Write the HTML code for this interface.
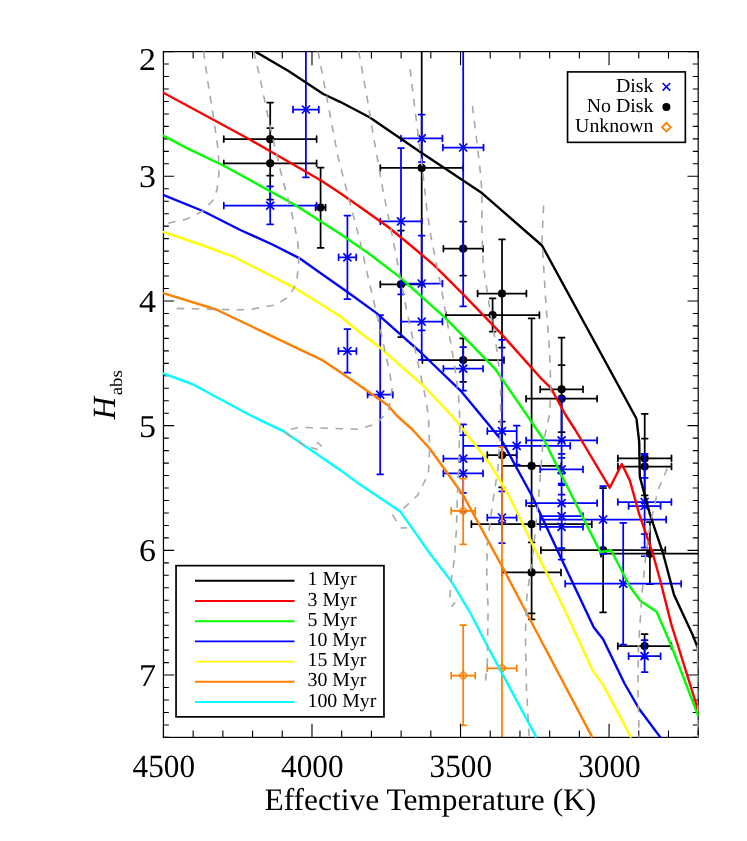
<!DOCTYPE html>
<html><head><meta charset="utf-8"><title>H_abs vs Effective Temperature</title>
<style>html,body{margin:0;padding:0;background:#fff}body{width:747px;height:841px;overflow:hidden}svg{display:block;will-change:transform}text{font-family:"Liberation Serif",serif;fill:#000;text-rendering:geometricPrecision}</style></head><body>
<svg width="747" height="841" viewBox="0 0 747 841">
<rect x="0" y="0" width="747" height="841" fill="#fff"/>
<defs><clipPath id="pc"><rect x="163.4" y="51.6" width="534.8" height="685.8"/></clipPath><clipPath id="pc2"><rect x="162.8" y="51.0" width="536.0" height="687.0"/></clipPath></defs>
<g clip-path="url(#pc)">
<path d="M223.8 139.2H316.6M223.8 136.2V142.1M316.6 136.2V142.1M270.2 102.6V175.7M267.2 102.6H273.1M267.2 175.7H273.1M223.8 163.3H316.6M223.8 160.4V166.2M316.6 160.4V166.2M270.2 128.0V199.5M267.2 128.0H273.1M267.2 199.5H273.1M315.6 207.5H325.6M315.6 204.6V210.4M325.6 204.6V210.4M320.6 167.6V247.9M317.7 167.6H323.6M317.7 247.9H323.6M380.3 167.9H463.1M380.3 165.0V170.8M463.1 165.0V170.8M421.7 30.0V284.0M418.8 30.0H424.6M418.8 284.0H424.6M443.4 248.7H483.0M443.4 245.8V251.6M483.0 245.8V251.6M463.2 221.7V275.5M460.2 221.7H466.1M460.2 275.5H466.1M477.6 293.5H526.4M477.6 290.6V296.4M526.4 290.6V296.4M502.0 239.4V347.6M499.1 239.4H504.9M499.1 347.6H504.9M445.8 315.1H539.4M445.8 312.2V318.1M539.4 312.2V318.1M492.6 298.3V331.7M489.7 298.3H495.6M489.7 331.7H495.6M380.3 284.4H421.7M380.3 281.4V287.3M421.7 281.4V287.3M401.0 230.5V337.1M398.1 230.5H403.9M398.1 337.1H403.9M422.4 360.1H504.0M422.4 357.2V363.1M504.0 357.2V363.1M463.2 338.4V381.8M460.2 338.4H466.1M460.2 381.8H466.1M540.2 389.3H583.0M540.2 386.4V392.2M583.0 386.4V392.2M561.6 337.6V441.0M558.6 337.6H564.6M558.6 441.0H564.6M526.1 398.7H597.1M526.1 395.8V401.6M597.1 395.8V401.6M561.6 365.2V432.2M558.6 365.2H564.6M558.6 432.2H564.6M487.3 455.2H516.7M487.3 452.2V458.1M516.7 452.2V458.1M502.0 421.7V487.3M499.1 421.7H504.9M499.1 487.3H504.9M501.9 465.9H561.3M501.9 462.9V468.8M561.3 462.9V468.8M531.6 318.4V613.4M528.6 318.4H534.6M528.6 613.4H534.6M471.4 524.2H591.8M471.4 521.2V527.2M591.8 521.2V527.2M531.6 506.0V542.4M528.6 506.0H534.6M528.6 542.4H534.6M502.2 572.4H561.0M502.2 569.4V575.4M561.0 569.4V575.4M531.6 525.5V619.3M528.6 525.5H534.6M528.6 619.3H534.6M540.9 550.2H665.3M540.9 547.2V553.2M665.3 547.2V553.2M603.1 488.0V612.3M600.1 488.0H606.1M600.1 612.3H606.1M601.0 553.7H720.0M601.0 550.8V556.7M720.0 550.8V556.7M649.9 522.1V584.2M646.9 522.1H652.9M646.9 584.2H652.9M617.9 458.4H671.5M617.9 455.4V461.3M671.5 455.4V461.3M644.7 413.8V503.0M641.8 413.8H647.7M641.8 503.0H647.7M617.9 466.5H671.5M617.9 463.6V469.4M671.5 463.6V469.4M644.7 438.6V495.3M641.8 438.6H647.7M641.8 495.3H647.7M617.8 646.0H671.4M617.8 643.0V649.0M671.4 643.0V649.0M644.6 634.0V658.0M641.6 634.0H647.6M641.6 658.0H647.6" stroke="#000" stroke-width="1.75" fill="none" stroke-linecap="round"/>
<g fill="#000"><circle cx="270.2" cy="139.2" r="4.1"/><circle cx="270.2" cy="163.3" r="4.1"/><circle cx="320.6" cy="207.5" r="4.1"/><circle cx="421.7" cy="167.9" r="4.1"/><circle cx="463.2" cy="248.7" r="4.1"/><circle cx="502.0" cy="293.5" r="4.1"/><circle cx="492.6" cy="315.1" r="4.1"/><circle cx="401.0" cy="284.4" r="4.1"/><circle cx="463.2" cy="360.1" r="4.1"/><circle cx="561.6" cy="389.3" r="4.1"/><circle cx="561.6" cy="398.7" r="4.1"/><circle cx="502.0" cy="455.2" r="4.1"/><circle cx="531.6" cy="465.9" r="4.1"/><circle cx="531.6" cy="524.2" r="4.1"/><circle cx="531.6" cy="572.4" r="4.1"/><circle cx="603.1" cy="550.2" r="4.1"/><circle cx="649.9" cy="553.7" r="4.1"/><circle cx="644.7" cy="458.4" r="4.1"/><circle cx="644.7" cy="466.5" r="4.1"/><circle cx="644.6" cy="646.0" r="4.1"/></g>
<path d="M293.0 109.5H318.8M293.0 106.5V112.5M318.8 106.5V112.5M305.9 41.7V177.3M302.9 41.7H308.8M302.9 177.3H308.8M223.8 205.6H316.6M223.8 202.7V208.5M316.6 202.7V208.5M270.2 186.4V224.4M267.2 186.4H273.1M267.2 224.4H273.1M401.0 138.4H442.4M401.0 135.5V141.3M442.4 135.5V141.3M421.7 114.6V162.0M418.8 114.6H424.6M418.8 162.0H424.6M442.9 147.5H483.5M442.9 144.6V150.4M483.5 144.6V150.4M463.2 -11.0V306.3M460.2 -11.0H466.1M460.2 306.3H466.1M380.3 221.4H421.7M380.3 218.5V224.3M421.7 218.5V224.3M401.0 148.1V294.3M398.1 148.1H403.9M398.1 294.3H403.9M338.6 257.3H356.2M338.6 254.4V260.2M356.2 254.4V260.2M347.4 215.5V299.1M344.4 215.5H350.3M344.4 299.1H350.3M338.4 351.0H356.4M338.4 348.1V353.9M356.4 348.1V353.9M347.4 329.1V372.7M344.4 329.1H350.3M344.4 372.7H350.3M401.0 283.5H442.4M401.0 280.6V286.4M442.4 280.6V286.4M421.7 235.6V330.4M418.8 235.6H424.6M418.8 330.4H424.6M401.0 321.6H442.4M401.0 318.7V324.6M442.4 318.7V324.6M421.7 283.3V359.9M418.8 283.3H424.6M418.8 359.9H424.6M443.4 368.7H483.0M443.4 365.8V371.6M483.0 365.8V371.6M463.2 347.0V390.6M460.2 347.0H466.1M460.2 390.6H466.1M367.6 394.7H392.8M367.6 391.8V397.6M392.8 391.8V397.6M380.2 315.1V474.3M377.2 315.1H383.1M377.2 474.3H383.1M443.4 458.6H483.0M443.4 455.7V461.6M483.0 455.7V461.6M463.2 424.4V492.8M460.2 424.4H466.1M460.2 492.8H466.1M443.4 473.4H483.0M443.4 470.4V476.3M483.0 470.4V476.3M463.2 435.1V511.7M460.2 435.1H466.1M460.2 511.7H466.1M487.3 431.1H516.7M487.3 428.2V434.1M516.7 428.2V434.1M502.0 339.8V522.4M499.1 339.8H504.9M499.1 522.4H504.9M487.3 517.5H516.7M487.3 514.5V520.5M516.7 514.5V520.5M502.0 491.3V543.0M499.1 491.3H504.9M499.1 543.0H504.9M463.2 445.8H570.2M463.2 442.9V448.8M570.2 442.9V448.8M516.7 425.7V464.5M513.8 425.7H519.7M513.8 464.5H519.7M526.1 440.4H597.1M526.1 437.4V443.3M597.1 437.4V443.3M561.6 397.3V483.5M558.6 397.3H564.6M558.6 483.5H564.6M540.2 469.4H583.0M540.2 466.4V472.3M583.0 466.4V472.3M561.6 453.8V485.0M558.6 453.8H564.6M558.6 485.0H564.6M526.1 503.1H597.1M526.1 500.2V506.1M597.1 500.2V506.1M561.6 457.8V548.0M558.6 457.8H564.6M558.6 548.0H564.6M540.2 516.2H583.0M540.2 513.2V519.2M583.0 513.2V519.2M561.6 473.7V559.6M558.6 473.7H564.6M558.6 559.6H564.6M540.2 526.8H583.0M540.2 523.8V529.8M583.0 523.8V529.8M561.6 494.7V548.0M558.6 494.7H564.6M558.6 548.0H564.6M540.1 519.5H666.1M540.1 516.5V522.5M666.1 516.5V522.5M603.1 486.0V553.8M600.1 486.0H606.1M600.1 553.8H606.1M565.2 583.7H681.2M565.2 580.8V586.7M681.2 580.8V586.7M623.2 522.9V644.5M620.2 522.9H626.2M620.2 644.5H626.2M617.8 502.0H671.4M617.8 499.1V504.9M671.4 499.1V504.9M644.6 453.8V547.6M641.6 453.8H647.6M641.6 547.6H647.6M628.6 506.0H660.6M628.6 503.1V508.9M660.6 503.1V508.9M644.6 477.9V534.1M641.6 477.9H647.6M641.6 534.1H647.6M628.6 656.2H660.6M628.6 653.2V659.2M660.6 653.2V659.2M644.6 640.1V672.0M641.6 640.1H647.6M641.6 672.0H647.6" stroke="#0000ff" stroke-width="1.75" fill="none" stroke-linecap="round"/>
<path d="M302.4 106.0l7.0 7.0M302.4 113.0l7.0 -7.0M266.7 202.1l7.0 7.0M266.7 209.1l7.0 -7.0M418.2 134.9l7.0 7.0M418.2 141.9l7.0 -7.0M459.7 144.0l7.0 7.0M459.7 151.0l7.0 -7.0M397.5 217.9l7.0 7.0M397.5 224.9l7.0 -7.0M343.9 253.8l7.0 7.0M343.9 260.8l7.0 -7.0M343.9 347.5l7.0 7.0M343.9 354.5l7.0 -7.0M418.2 280.0l7.0 7.0M418.2 287.0l7.0 -7.0M418.2 318.1l7.0 7.0M418.2 325.1l7.0 -7.0M459.7 365.2l7.0 7.0M459.7 372.2l7.0 -7.0M376.7 391.2l7.0 7.0M376.7 398.2l7.0 -7.0M459.7 455.1l7.0 7.0M459.7 462.1l7.0 -7.0M459.7 469.9l7.0 7.0M459.7 476.9l7.0 -7.0M498.5 427.6l7.0 7.0M498.5 434.6l7.0 -7.0M498.5 514.0l7.0 7.0M498.5 521.0l7.0 -7.0M513.2 442.3l7.0 7.0M513.2 449.3l7.0 -7.0M558.1 436.9l7.0 7.0M558.1 443.9l7.0 -7.0M558.1 465.9l7.0 7.0M558.1 472.9l7.0 -7.0M558.1 499.6l7.0 7.0M558.1 506.6l7.0 -7.0M558.1 512.7l7.0 7.0M558.1 519.7l7.0 -7.0M558.1 523.3l7.0 7.0M558.1 530.3l7.0 -7.0M599.6 516.0l7.0 7.0M599.6 523.0l7.0 -7.0M619.7 580.2l7.0 7.0M619.7 587.2l7.0 -7.0M641.1 498.5l7.0 7.0M641.1 505.5l7.0 -7.0M641.1 502.5l7.0 7.0M641.1 509.5l7.0 -7.0M641.1 652.7l7.0 7.0M641.1 659.7l7.0 -7.0" stroke="#0000ff" stroke-width="1.75" fill="none" stroke-linecap="round"/>
<path d="M641 556.2h7.2M641 454.8h7.2" stroke="#0000ff" stroke-width="1.6"/>
<path d="M451.2 510.9H475.2M451.2 507.9V513.9M475.2 507.9V513.9M463.2 478.5V544.3M460.2 478.5H466.1M460.2 544.3H466.1M451.2 675.5H475.2M451.2 672.5V678.5M475.2 672.5V678.5M463.2 625.1V725.3M460.2 625.1H466.1M460.2 725.3H466.1M487.3 668.3H516.7M487.3 665.3V671.2M516.7 665.3V671.2M502.0 447.1V890.0M499.1 447.1H504.9M499.1 890.0H504.9" stroke="#ff7f00" stroke-width="1.75" fill="none" stroke-linecap="round"/>
<path d="M459.0 510.9L463.2 506.7L467.4 510.9L463.2 515.1ZM459.0 675.5L463.2 671.3L467.4 675.5L463.2 679.7ZM497.8 668.3L502.0 664.1L506.2 668.3L502.0 672.5Z" stroke="#ff7f00" stroke-width="1.4" fill="none"/>
</g>
<rect x="163.45" y="51.60" width="534.75" height="685.80" fill="none" stroke="#000" stroke-width="1.2"/>
<path d="M163.45 51.60v13.7M163.45 737.40v-13.7M193.16 51.60v6.9M193.16 737.40v-6.9M222.87 51.60v6.9M222.87 737.40v-6.9M252.57 51.60v6.9M252.57 737.40v-6.9M282.28 51.60v6.9M282.28 737.40v-6.9M311.99 51.60v13.7M311.99 737.40v-13.7M341.70 51.60v6.9M341.70 737.40v-6.9M371.41 51.60v6.9M371.41 737.40v-6.9M401.12 51.60v6.9M401.12 737.40v-6.9M430.82 51.60v6.9M430.82 737.40v-6.9M460.53 51.60v13.7M460.53 737.40v-13.7M490.24 51.60v6.9M490.24 737.40v-6.9M519.95 51.60v6.9M519.95 737.40v-6.9M549.66 51.60v6.9M549.66 737.40v-6.9M579.37 51.60v6.9M579.37 737.40v-6.9M609.07 51.60v13.7M609.07 737.40v-13.7M638.78 51.60v6.9M638.78 737.40v-6.9M668.49 51.60v6.9M668.49 737.40v-6.9M698.20 51.60v6.9M698.20 737.40v-6.9M163.45 51.60h10.7M698.20 51.60h-10.7M163.45 64.07h5.4M698.20 64.07h-5.4M163.45 76.54h5.4M698.20 76.54h-5.4M163.45 89.01h5.4M698.20 89.01h-5.4M163.45 101.48h5.4M698.20 101.48h-5.4M163.45 113.95h5.4M698.20 113.95h-5.4M163.45 126.41h5.4M698.20 126.41h-5.4M163.45 138.88h5.4M698.20 138.88h-5.4M163.45 151.35h5.4M698.20 151.35h-5.4M163.45 163.82h5.4M698.20 163.82h-5.4M163.45 176.29h10.7M698.20 176.29h-10.7M163.45 188.76h5.4M698.20 188.76h-5.4M163.45 201.23h5.4M698.20 201.23h-5.4M163.45 213.70h5.4M698.20 213.70h-5.4M163.45 226.17h5.4M698.20 226.17h-5.4M163.45 238.64h5.4M698.20 238.64h-5.4M163.45 251.11h5.4M698.20 251.11h-5.4M163.45 263.57h5.4M698.20 263.57h-5.4M163.45 276.04h5.4M698.20 276.04h-5.4M163.45 288.51h5.4M698.20 288.51h-5.4M163.45 300.98h10.7M698.20 300.98h-10.7M163.45 313.45h5.4M698.20 313.45h-5.4M163.45 325.92h5.4M698.20 325.92h-5.4M163.45 338.39h5.4M698.20 338.39h-5.4M163.45 350.86h5.4M698.20 350.86h-5.4M163.45 363.33h5.4M698.20 363.33h-5.4M163.45 375.80h5.4M698.20 375.80h-5.4M163.45 388.27h5.4M698.20 388.27h-5.4M163.45 400.73h5.4M698.20 400.73h-5.4M163.45 413.20h5.4M698.20 413.20h-5.4M163.45 425.67h10.7M698.20 425.67h-10.7M163.45 438.14h5.4M698.20 438.14h-5.4M163.45 450.61h5.4M698.20 450.61h-5.4M163.45 463.08h5.4M698.20 463.08h-5.4M163.45 475.55h5.4M698.20 475.55h-5.4M163.45 488.02h5.4M698.20 488.02h-5.4M163.45 500.49h5.4M698.20 500.49h-5.4M163.45 512.96h5.4M698.20 512.96h-5.4M163.45 525.43h5.4M698.20 525.43h-5.4M163.45 537.89h5.4M698.20 537.89h-5.4M163.45 550.36h10.7M698.20 550.36h-10.7M163.45 562.83h5.4M698.20 562.83h-5.4M163.45 575.30h5.4M698.20 575.30h-5.4M163.45 587.77h5.4M698.20 587.77h-5.4M163.45 600.24h5.4M698.20 600.24h-5.4M163.45 612.71h5.4M698.20 612.71h-5.4M163.45 625.18h5.4M698.20 625.18h-5.4M163.45 637.65h5.4M698.20 637.65h-5.4M163.45 650.12h5.4M698.20 650.12h-5.4M163.45 662.59h5.4M698.20 662.59h-5.4M163.45 675.05h10.7M698.20 675.05h-10.7M163.45 687.52h5.4M698.20 687.52h-5.4M163.45 699.99h5.4M698.20 699.99h-5.4M163.45 712.46h5.4M698.20 712.46h-5.4M163.45 724.93h5.4M698.20 724.93h-5.4M163.45 737.40h5.4M698.20 737.40h-5.4" stroke="#000" stroke-width="1.1" fill="none"/>
<g clip-path="url(#pc2)" fill="none" stroke-width="2.4" stroke-linejoin="round">
<polyline points="162.4,373.1 192.1,384.0 249.7,415.0 283.2,431.1 340.0,469.9 360.0,484.6 400.2,511.4 431.0,555.0 451.1,581.0 471.2,614.5 484.6,640.7 536.5,737.6" stroke="#00ffff"/>
<polyline points="162.4,292.9 216.2,309.5 323.3,360.7 340.0,371.9 360.0,385.8 388.2,405.4 396.2,415.0 412.3,429.5 429.7,448.5 463.2,495.3 500.6,563.6 527.4,614.5 592.4,737.6" stroke="#ff7f00"/>
<polyline points="162.4,231.6 200.2,244.5 233.6,256.8 296.5,288.9 340.0,316.2 360.0,332.5 380.2,347.8 423.0,385.3 451.1,415.0 463.2,429.5 490.0,464.1 507.4,492.9 525.5,529.7 532.1,543.5 540.0,559.6 566.9,614.5 592.4,670.1 603.1,684.9 631.2,737.6" stroke="#ffff00"/>
<polyline points="162.4,194.5 202.8,211.0 240.3,230.0 272.4,244.5 299.2,258.1 320.0,272.7 347.4,292.1 376.2,312.9 400.3,334.3 420.3,352.0 460.5,390.6 501.6,440.2 532.0,496.0 561.6,559.3 593.7,627.3 603.1,639.3 624.5,683.5 639.2,709.0 660.6,737.6" stroke="#0000ff"/>
<polyline points="162.4,135.0 186.8,148.1 224.3,166.0 293.9,204.3 340.0,233.8 369.5,254.0 401.6,278.6 447.1,319.7 495.3,369.2 544.6,441.0 562.0,476.2 600.4,552.1 611.1,550.2 629.9,586.7 640.6,601.0 656.6,611.8 671.4,646.0 698.4,716.3" stroke="#00ff00"/>
<polyline points="162.4,92.2 248.4,138.7 320.6,180.2 340.0,193.0 360.0,207.0 388.2,227.0 409.6,244.5 433.7,264.8 463.2,294.3 500.6,333.1 540.0,377.3 550.9,388.0 565.6,415.0 575.0,429.5 609.8,487.8 621.8,464.0 629.9,480.6 639.2,514.1 652.6,553.0 660.6,581.8 671.4,624.6 698.4,711.0" stroke="#ff0000"/>
<polyline points="255.0,51.4 288.5,71.0 323.3,94.0 340.0,101.8 369.5,117.3 420.3,152.1 481.9,193.1 500.0,208.9 542.0,245.5 636.5,418.8 639.2,441.8 639.8,476.6 649.9,514.1 663.3,554.2 674.0,594.8 692.8,635.3 698.4,649.5" stroke="#000000"/>
</g>
<g clip-path="url(#pc2)" stroke="#a8a8a8" stroke-width="1.6" fill="none" stroke-dasharray="7.5 7.5">
<polyline points="203.6,51.4 208.3,85.0 214.3,122.6 218.4,152.0 219.0,173.5 217.0,189.6 213.5,199.7 202.8,211.0 186.8,219.0 163.4,224.4"/>
<polyline points="253.7,51.4 260.4,79.8 269.8,125.3 280.5,170.8 291.2,211.0 297.5,240.0 299.2,258.1 296.5,283.5 288.5,297.0 275.1,305.0 248.4,309.8 216.2,309.5 170.7,308.2"/>
<polyline points="318.0,51.4 326.0,93.2 338.0,157.0 350.7,205.6 360.0,241.0 369.5,283.5 380.2,329.0 389.5,371.9 392.2,388.0 388.6,411.0 376.0,424.0 358.0,429.3 340.0,428.7 299.2,427.3 283.2,431.1"/>
<polyline points="286.0,433.0 304.6,445.8"/>
<polyline points="310.9,447.5 317.8,449.6"/>
<polyline points="321.8,446.4 316.9,442.2"/>
<polyline points="358.7,51.4 366.8,95.9 374.8,144.0 382.8,189.6 392.5,237.0 405.6,305.0 416.4,355.8 425.2,396.0 428.4,415.0 429.7,448.5 428.4,473.9 417.6,495.3 400.2,511.4"/>
<polyline points="392.5,514.6 396.8,521.8"/>
<polyline points="400.6,527.9 406.8,527.9"/>
<polyline points="410.1,69.1 413.6,98.5 423.0,173.5 427.0,211.0 431.0,237.0 440.4,283.5 447.1,321.0 455.1,369.2 458.6,396.0 460.0,422.0 458.5,470.0 457.4,493.7 456.4,530.0 454.3,560.0 451.1,581.0 449.7,600.5"/>
<polyline points="451.7,606.8 455.0,602.2"/>
<polyline points="472.5,106.0 476.5,138.7 480.5,173.5 481.9,193.0 481.9,230.0 483.2,264.8 490.0,310.3 496.6,347.8 500.6,380.0 500.6,429.5 498.0,468.5 492.6,503.4 487.3,543.5 486.7,575.6 488.1,608.5 487.3,662.1 485.4,682.2"/>
<polyline points="543.6,205.6 542.0,240.0 545.5,296.9 549.5,350.5 550.9,388.0 549.5,415.0 542.8,444.5 538.8,495.3 533.5,548.9 532.0,560.0 526.8,597.0 525.4,635.0 526.5,689.0 529.2,737.6"/>
<polyline points="697.4,630.0 697.9,737.6"/>
<polyline points="667.3,468.5 658.0,490.0 650.0,525.0 645.9,554.2 641.9,595.0 638.4,648.7 637.9,689.0 639.2,737.6"/>
</g>
<text x="132.6" y="776.7" font-size="32.4" textLength="62.4" lengthAdjust="spacingAndGlyphs">4500</text>
<text x="281.1" y="776.7" font-size="32.4" textLength="62.4" lengthAdjust="spacingAndGlyphs">4000</text>
<text x="429.6" y="776.7" font-size="32.4" textLength="62.4" lengthAdjust="spacingAndGlyphs">3500</text>
<text x="578.2" y="776.7" font-size="32.4" textLength="62.4" lengthAdjust="spacingAndGlyphs">3000</text>
<text x="138.9" y="70.0" font-size="31.8" textLength="17" lengthAdjust="spacingAndGlyphs">2</text>
<text x="138.9" y="187.1" font-size="31.8" textLength="17" lengthAdjust="spacingAndGlyphs">3</text>
<text x="138.9" y="311.8" font-size="31.8" textLength="17" lengthAdjust="spacingAndGlyphs">4</text>
<text x="138.9" y="436.5" font-size="31.8" textLength="17" lengthAdjust="spacingAndGlyphs">5</text>
<text x="138.9" y="561.2" font-size="31.8" textLength="17" lengthAdjust="spacingAndGlyphs">6</text>
<text x="138.9" y="685.9" font-size="31.8" textLength="17" lengthAdjust="spacingAndGlyphs">7</text>
<text x="430.4" y="809.9" font-size="31.45" text-anchor="middle">Effective Temperature (K)</text>
<g transform="translate(115.2,419.6) rotate(-90)"><text x="0" y="0" font-size="32.4" font-style="italic" textLength="22.6" lengthAdjust="spacingAndGlyphs">H</text><text x="24.3" y="6.7" font-size="17.6" textLength="25" lengthAdjust="spacingAndGlyphs">abs</text></g>
<rect x="567.55" y="71.9" width="117.8" height="70.45" fill="#fff" stroke="#000" stroke-width="1.65"/>
<text x="653.4" y="91.9" font-size="19.85" text-anchor="end">Disk</text>
<text x="653.4" y="112.1" font-size="19.85" text-anchor="end">No Disk</text>
<text x="653.4" y="132.3" font-size="19.85" text-anchor="end">Unknown</text>
<path d="M662.6 83l7.6 7.6M662.6 90.6l7.6 -7.6" stroke="#0000ff" stroke-width="1.6" fill="none"/>
<circle cx="666.4" cy="107" r="4" fill="#000"/>
<path d="M662 127.2L666.4 122.8L670.8 127.2L666.4 131.6Z" stroke="#ff7f00" stroke-width="1.8" fill="none"/>
<rect x="176.05" y="565.65" width="207.9" height="151.2" fill="#fff" stroke="#000" stroke-width="1.7"/>
<path d="M195 580.8H294.5" stroke="#000000" stroke-width="1.9"/>
<text x="307.5" y="585.3" font-size="19.85">1 Myr</text>
<path d="M195 601.0H294.5" stroke="#ff0000" stroke-width="1.9"/>
<text x="307.5" y="605.5" font-size="19.85">3 Myr</text>
<path d="M195 621.2H294.5" stroke="#00ff00" stroke-width="1.9"/>
<text x="307.5" y="625.7" font-size="19.85">5 Myr</text>
<path d="M195 641.4H294.5" stroke="#0000ff" stroke-width="1.9"/>
<text x="307.5" y="645.9" font-size="19.85">10 Myr</text>
<path d="M195 661.6H294.5" stroke="#ffff00" stroke-width="1.9"/>
<text x="307.5" y="666.1" font-size="19.85">15 Myr</text>
<path d="M195 681.8H294.5" stroke="#ff7f00" stroke-width="1.9"/>
<text x="307.5" y="686.3" font-size="19.85">30 Myr</text>
<path d="M195 702.0H294.5" stroke="#00ffff" stroke-width="1.9"/>
<text x="307.5" y="706.5" font-size="19.85">100 Myr</text>
</svg></body></html>
